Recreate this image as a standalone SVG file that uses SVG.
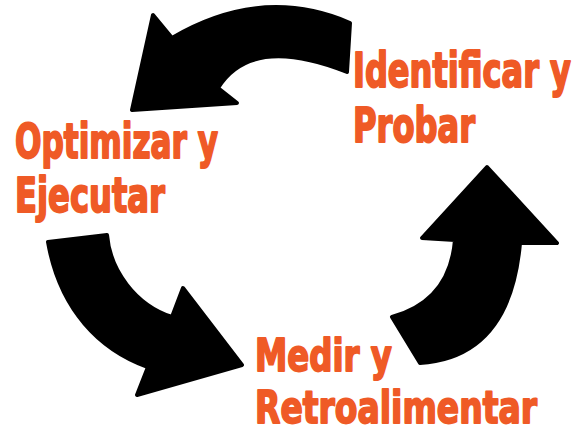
<svg xmlns="http://www.w3.org/2000/svg" width="579" height="434" viewBox="0 0 579 434">
<style>
.lbl{font-family:"Liberation Sans Narrow","DejaVu Sans Condensed","Liberation Sans",sans-serif;font-weight:bold;font-size:35px;fill:#EF5A26;stroke:#EF5A26;stroke-width:1.4;stroke-linejoin:round}
.arr{fill:#000;stroke:#000;stroke-width:4;stroke-linejoin:round}
</style>
<rect width="579" height="434" fill="#fff"/>
<g id="connectors">
<path class="arr" d="M350,23 Q262,-15 172,38 L153,15 L132,110 L237,103 L218,88 Q251,34 347,72 Z"/>
<path class="arr" d="M487,167 L557,243 L520,243 Q510,357 420,363 L392,317 Q450,301 455,240 L422,238 Z"/>
<path class="arr" d="M48,242 L107,235 C110,270 135,305 172,317 L183,288 L242,365 L137,395 L148,367 C100,350 60,310 48,242 Z"/>
</g>
<g id="node-identificar">
<text class="lbl" transform="translate(353,87) scale(1,1.35)" textLength="218" lengthAdjust="spacingAndGlyphs">Identificar y</text>
<text class="lbl" transform="translate(353,142) scale(1,1.35)" textLength="122" lengthAdjust="spacingAndGlyphs">Probar</text>
</g>
<g id="node-optimizar">
<text class="lbl" transform="translate(15,158) scale(1,1.35)" textLength="203" lengthAdjust="spacingAndGlyphs">Optimizar y</text>
<text class="lbl" transform="translate(15,212) scale(1,1.35)" textLength="150" lengthAdjust="spacingAndGlyphs">Ejecutar</text>
</g>
<g id="node-medir">
<text class="lbl" transform="translate(255,371) scale(1,1.25)" textLength="137" lengthAdjust="spacingAndGlyphs">Medir y</text>
<text class="lbl" transform="translate(255,423) scale(1,1.25)" textLength="282" lengthAdjust="spacingAndGlyphs">Retroalimentar</text>
</g>
</svg>
